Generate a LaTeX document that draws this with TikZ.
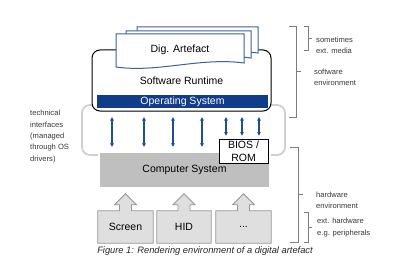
\documentclass[tikz,border=0pt]{standalone}
\usepackage{fontspec}
\setmainfont{Liberation Sans}
\usetikzlibrary{arrows.meta, backgrounds}
\definecolor{osblue}{RGB}{16,60,138}
\definecolor{arblue}{RGB}{34,78,142}
\definecolor{docblue}{RGB}{62,96,152}
\definecolor{csgray}{RGB}{191,191,191}
\definecolor{pgray}{RGB}{223,223,223}
\definecolor{plgray}{RGB}{150,150,150}
\definecolor{ifcgray}{RGB}{208,208,208}
\definecolor{brkgray}{RGB}{125,125,125}
\definecolor{lblgray}{RGB}{55,55,55}
\tikzset{
  mfont/.style={font=\fontsize{10.5}{12.5}\selectfont},
  rtbox/.style={draw=black, fill=white, rounded corners=8pt, line width=1pt,
                mfont, inner sep=0pt},
  osbar/.style={fill=osblue, text=white, mfont, inner sep=0pt},
  csbox/.style={fill=csgray, draw=gray!25, double=white, double distance=1.4pt,
                line width=0.6pt, mfont, inner sep=0pt},
  biosbox/.style={draw=black, fill=white, line width=0.8pt, mfont, align=center,
                  inner sep=0.5pt},
  ifcbox/.style={draw=ifcgray, line width=1.8pt, rounded corners=8pt},
  docf/.style={draw=docblue, fill=white, line width=1pt},
  pbox/.style={mfont, inner sep=0pt, minimum height=32pt},
  pshape/.style={draw=plgray, fill=pgray, line width=0.8pt},
  dar/.style={{Stealth[length=3.6pt, width=4pt]}-{Stealth[length=3.6pt, width=4pt]},
              line width=1.1pt, arblue},
  brk/.style={draw=brkgray, line width=0.8pt},
  lbl/.style={font=\fontsize{7.6}{11.3}\selectfont, text=lblgray, align=left,
              inner sep=0pt, anchor=west},
  capt/.style={font=\fontsize{9.3}{11}\selectfont\itshape, text=black!85, inner sep=0pt},
}

\begin{document}
\begin{tikzpicture}[x=1pt, y=1pt]
\useasboundingbox (0,0) rectangle (420,279);

%% ============================================================
%% SOFTWARE SIDE
%% ============================================================

%% --- runtime box with the document stack on top ---
\node[rtbox, minimum width=179pt, minimum height=61pt] (rt) at (181.5,198.5)
  {Software Runtime};

\draw[docf] (137,252) -- (258,252) -- (258,226)
  .. controls (217,231) and (177,215) .. (137,221) -- cycle;
\draw[docf] (126,248) -- (251,248) -- (251,221)
  .. controls (208.5,227) and (167,211) .. (126,217) -- cycle;
\draw[docf] (116,245) -- (244,245) -- (244,216)
  .. controls (200.5,222) and (158,206) .. (116,212) -- cycle;
\node[mfont, inner sep=0pt] (art) at (180,229) {Dig. Artefact};

\node[osbar, minimum width=171pt, minimum height=13pt] (os) at (182.5,177.5)
  {Operating System};


%% ============================================================
%% HARDWARE SIDE
%% ============================================================

%% --- technical interfaces: grey bracket behind both blocks ---
\begin{scope}[on background layer]
  \node[ifcbox, minimum width=203pt, minimum height=50pt] (ifc) at (183.5,149) {};
\end{scope}

\node[csbox, minimum width=171pt, minimum height=36pt] (cs) at (184.5,109)
  {Computer System};
\node[biosbox, minimum width=49pt, minimum height=24pt] (bios) at (243.5,128)
  {BIOS /\\ROM};

%% OS <-> computer system
\draw[dar, shorten <=9pt, shorten >=5pt] (112,0 |- os.south) -- (112,0 |- cs.north);
\draw[dar, shorten <=9pt, shorten >=5pt] (144,0 |- os.south) -- (144,0 |- cs.north);
\draw[dar, shorten <=9pt, shorten >=5pt] (173,0 |- os.south) -- (173,0 |- cs.north);
\draw[dar, shorten <=9pt, shorten >=5pt] (202,0 |- os.south) -- (202,0 |- cs.north);
%% OS <-> BIOS
\draw[dar, shorten <=9pt, shorten >=3pt] (226,0 |- os.south) -- (226,0 |- bios.north);
\draw[dar, shorten <=9pt, shorten >=3pt] (242,0 |- os.south) -- (242,0 |- bios.north);
\draw[dar, shorten <=9pt, shorten >=3pt] (259,0 |- os.south) -- (259,0 |- bios.north);

%% --- peripherals, each box with an arrow up into the computer system ---
\node[pbox, minimum width=55pt] (scr) at (125.5,52) {Screen};
\node[pbox, minimum width=54pt] (hid) at (184,52)   {HID};
\node[pbox, minimum width=55pt] (oth) at (243.5,52) {...};

\begin{scope}[on background layer]
  \draw[pshape] (scr.south west) -- (scr.north west) -- ([xshift=-6pt]scr.north)
    -- ++(0,6) -- ++(-5,0) -- ([yshift=17pt]scr.north) -- ++(11,-11) -- ++(-5,0)
    -- ++(0,-6) -- (scr.north east) -- (scr.south east) -- cycle;
  \draw[pshape] (hid.south west) -- (hid.north west) -- ([xshift=-6pt]hid.north)
    -- ++(0,6) -- ++(-5,0) -- ([yshift=17pt]hid.north) -- ++(11,-11) -- ++(-5,0)
    -- ++(0,-6) -- (hid.north east) -- (hid.south east) -- cycle;
  \draw[pshape] (oth.south west) -- (oth.north west) -- ([xshift=-6pt]oth.north)
    -- ++(0,6) -- ++(-5,0) -- ([yshift=17pt]oth.north) -- ++(11,-11) -- ++(-5,0)
    -- ++(0,-6) -- (oth.north east) -- (oth.south east) -- cycle;
\end{scope}

\node[capt] (cap) at (205,28) {Figure 1: Rendering environment of a digital artefact};


%% ============================================================
%% LABELS AND BRACKETS
%% ============================================================

\node[lbl] (ltech) at (30,142.5)
  {technical\\interfaces\\(managed\\through OS\\drivers)};

%% software environment
\draw[brk] (289,253) -- (296,253) -- (296,162) -- (289,162);
\draw[brk] (296,208) -- (301,208);
\node[lbl] (lsw) at (314,201.5) {software\\environment};

%% sometimes ext. media
\draw[brk] (304,253) -- (308,253) -- (308,229) -- (304,229);
\draw[brk] (308,241) -- (312,241);
\node[lbl] (lmed) at (316,233.5) {sometimes\\ext. media};

%% hardware environment
\draw[brk] (290,132) -- (298,132) -- (298,37) -- (290,37);
\draw[brk] (298,85) -- (303,85);
\node[lbl] (lhw) at (316,79) {hardware\\environment};

%% ext. hardware
\draw[brk] (304,67) -- (308,67) -- (308,37) -- (304,37);
\draw[brk] (308,52) -- (312,52);
\node[lbl] (lper) at (317,51.5) {ext. hardware\\e.g. peripherals};

\end{tikzpicture}
\end{document}
